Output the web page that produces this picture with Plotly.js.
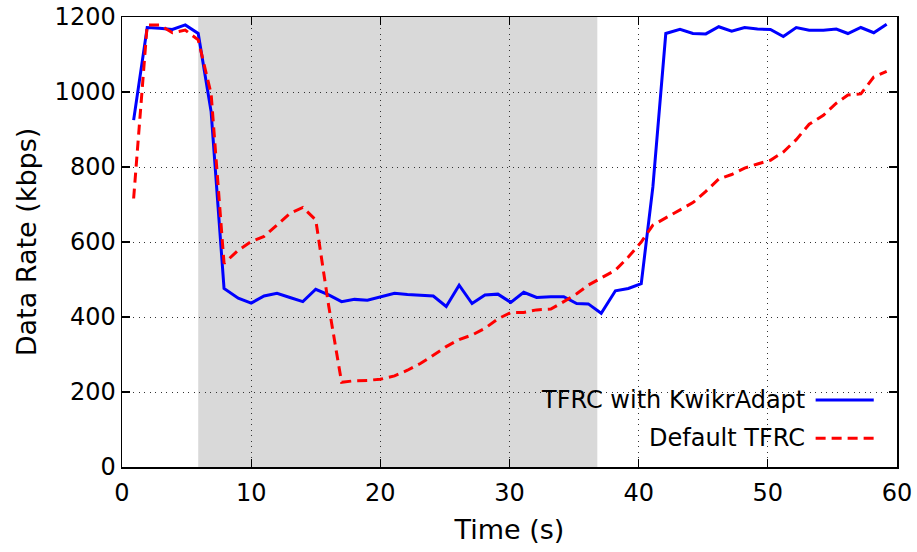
<!DOCTYPE html>
<html>
<head>
<meta charset="utf-8">
<script src="https://cdn.plot.ly/plotly-3.0.1.min.js"></script>
<style>
  html, body { margin: 0; padding: 0; background: #fff; }
  #chart { width: 917px; height: 552px; }
</style>
</head>
<body>
<div id="chart"></div>
<script>
// Sample times (s)
const time = [0.9, 1.95, 2.9, 3.9, 4.9, 5.9, 6.9, 7.9, 9.0, 10.0, 11.0, 12.0, 13.0, 14.0,
  15.0, 16.0, 17.0, 18.0, 19.0, 20.0, 21.1, 22.1, 23.1, 24.1, 25.1, 26.1, 27.1, 28.1,
  29.1, 30.1, 31.1, 32.1, 33.2, 34.2, 35.2, 36.1, 37.1, 38.2, 39.2, 40.2, 41.1, 42.1,
  43.2, 44.2, 45.2, 46.2, 47.2, 48.2, 49.2, 50.2, 51.2, 52.2, 53.2, 54.3, 55.3, 56.2,
  57.2, 58.2, 59.2];

// TFRC with KwikrAdapt (kbps)
const kwikrRate = [925, 1172, 1170, 1167, 1179, 1156, 947, 476, 450, 437, 456, 463, 452, 441,
  474, 459, 441, 447, 445, 454, 463, 460, 459, 456, 428, 485, 436, 459,
  461, 439, 466, 452, 454, 454, 436, 435, 410, 470, 476, 489, 747, 1156,
  1167, 1156, 1155, 1174, 1162, 1172, 1168, 1167, 1148, 1172, 1165, 1165, 1168, 1156,
  1172, 1158, 1181];

// Default TFRC (kbps)
const defaultRate = [716, 1179, 1179, 1158, 1165, 1139, 995, 543, 578, 601, 615, 645, 676, 692,
  659, 430, 226, 230, 231, 234, 243, 258, 276, 298, 321, 340, 352, 370,
  395, 412, 412, 419, 421, 441, 462, 485, 503, 525, 560, 600, 645, 665,
  685, 705, 735, 768, 780, 797, 808, 818, 840, 873, 914, 938, 970, 992,
  995, 1040, 1055];

// Congested interval (s)
const congestion = [5.9, 36.8];

const seriesNames = ['TFRC with KwikrAdapt', 'Default TFRC'];
const xTicks = [0, 10, 20, 30, 40, 50, 60];
const yTicks = [0, 200, 400, 600, 800, 1000, 1200];

const FONT = '"DejaVu Sans", sans-serif';
const BLUE = '#0000ff';
const RED = '#ff0000';
const RED_DASH = '10px,6px';

const traces = [
  { x: time, y: kwikrRate, name: seriesNames[0], mode: 'lines',
    line: { color: BLUE, width: 3 }, showlegend: false },
  { x: time, y: defaultRate, name: seriesNames[1], mode: 'lines',
    line: { color: RED, width: 3, dash: RED_DASH }, showlegend: false }
];

const axisCommon = {
  showline: true, linecolor: '#000', linewidth: 1.5, mirror: 'ticks',
  ticks: 'inside', ticklen: 8, tickcolor: '#000', tickwidth: 1.2,
  showgrid: true, gridcolor: '#333', griddash: '1px,4.5px', gridwidth: 1,
  zeroline: false, tickfont: { family: FONT, size: 24, color: '#000' }
};

// Legend drawn in the lower right with the line sample after the label
const legendRows = [0.149, 0.064];
const legendStyle = [{ color: BLUE, width: 3 }, { color: RED, width: 3, dash: RED_DASH }];

const shapes = [
  { type: 'rect', xref: 'x', yref: 'paper', x0: congestion[0], x1: congestion[1],
    y0: 0, y1: 1, fillcolor: '#d9d9d9', line: { width: 0 }, layer: 'below' }
];
const annotations = [];
legendRows.forEach((yy, i) => {
  shapes.push({ type: 'line', xref: 'paper', yref: 'paper', x0: 0.895, x1: 0.970,
    y0: yy, y1: yy, line: legendStyle[i], layer: 'above' });
  annotations.push({ xref: 'paper', yref: 'paper', x: 0.884, y: yy, xanchor: 'right',
    yanchor: 'middle', showarrow: false, text: seriesNames[i],
    font: { family: FONT, size: 24, color: '#000' } });
});

const layout = {
  width: 917, height: 552,
  margin: { l: 122, r: 20, t: 17, b: 85 },
  paper_bgcolor: '#fff', plot_bgcolor: '#fff',
  xaxis: Object.assign({}, axisCommon, {
    range: [0, 60], tickvals: xTicks, ticktext: xTicks.map(String),
    ticklabelstandoff: 4,
    title: { text: 'Time (s)', font: { family: FONT, size: 27, color: '#000' }, standoff: 14 }
  }),
  yaxis: Object.assign({}, axisCommon, {
    range: [0, 1200], tickvals: yTicks, ticktext: yTicks.map(String),
    title: { text: 'Data Rate (kbps)', font: { family: FONT, size: 27, color: '#000' }, standoff: 10 }
  }),
  shapes: shapes,
  annotations: annotations,
  showlegend: false
};

Plotly.newPlot('chart', traces, layout, { staticPlot: true, displayModeBar: false });
</script>
</body>
</html>
